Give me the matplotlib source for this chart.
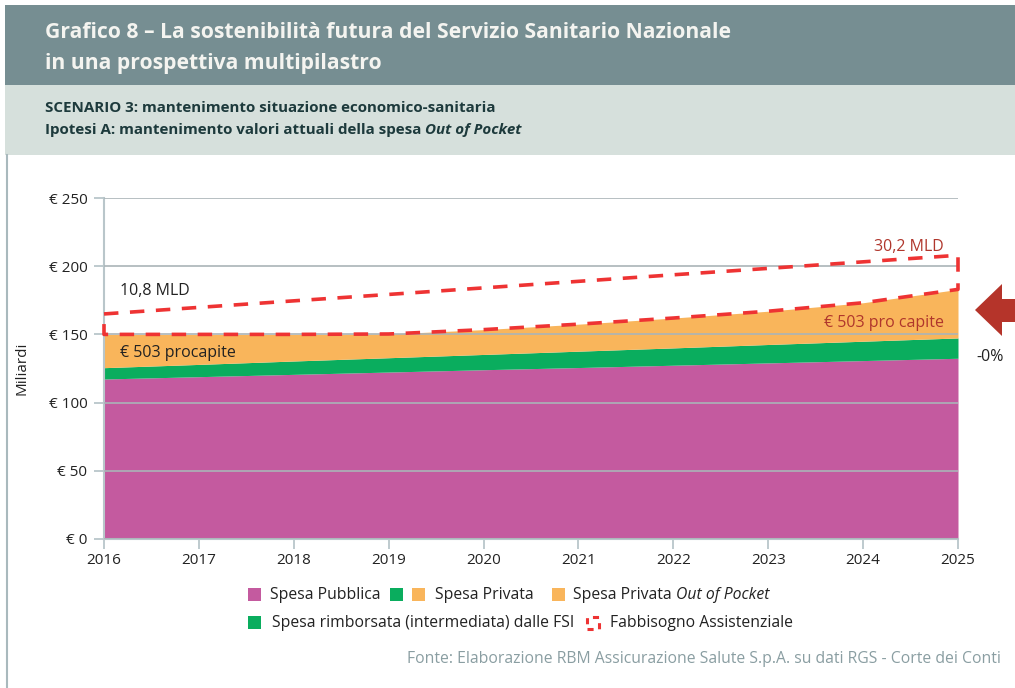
import matplotlib
matplotlib.use("Agg")
import matplotlib.pyplot as plt
from matplotlib.patches import Rectangle, Polygon
from matplotlib import font_manager as fm

names = {f.name for f in fm.fontManager.ttflist}
FAM = ['Liberation Sans Narrow', 'DejaVu Sans'] if 'Liberation Sans Narrow' in names else ['Open Sans', 'DejaVu Sans']
plt.rcParams['font.family'] = FAM

# ---- data ----
years = [2016, 2017, 2018, 2019, 2020, 2021, 2022, 2023, 2024, 2025]
spesa_pubblica = [117.3, 119.0, 120.7, 122.4, 124.1, 125.7, 127.4, 129.1, 130.8, 132.5]
spesa_fsi = [8.3, 9.0, 9.8, 10.5, 11.2, 12.0, 12.7, 13.5, 14.2, 14.9]
spesa_oop = [24.4, 22.0, 19.5, 17.4, 18.2, 19.8, 21.9, 24.4, 28.2, 35.6]
fabbisogno = [165.0, 169.8, 174.6, 179.3, 184.1, 188.9, 193.7, 198.4, 203.2, 208.0]
yticks = [0, 50, 100, 150, 200, 250]
ytick_labels = ['€ 0', '€ 50', '€ 100', '€ 150', '€ 200', '€ 250']

C_PUB = '#c45a9f'
C_FSI = '#0aad5e'
C_OOP = '#f9b55b'
C_RED = '#ee3333'
C_DRED = '#b5342a'

W, H = 1015, 688
fig = plt.figure(figsize=(W / 100, H / 100), dpi=100)

def fx(px):
    return px / W

def fy(py):
    return 1 - py / H

# header bands
fig.patches.append(Rectangle((fx(5), fy(85)), fx(1010), 80 / H, transform=fig.transFigure,
                             facecolor='#768e92', edgecolor='none'))
fig.patches.append(Rectangle((fx(5), fy(155)), fx(1010), 70 / H, transform=fig.transFigure,
                             facecolor='#d6e0dc', edgecolor='none'))
fig.add_artist(plt.Line2D([fx(6.5), fx(6.5)], [fy(155), fy(688)], transform=fig.transFigure,
                          color='#a9b9bd', lw=1.5))

fig.text(fx(45), fy(32), 'Grafico 8 – La sostenibilità futura del Servizio Sanitario Nazionale',
         color='#f4f4f0', fontsize=15.2, fontweight='bold', va='center', ha='left')
fig.text(fx(45), fy(64), 'in una prospettiva multipilastro',
         color='#f4f4f0', fontsize=15.2, fontweight='bold', va='center', ha='left')
fig.text(fx(45), fy(108), 'SCENARIO 3: mantenimento situazione economico-sanitaria',
         color='#1d3a3c', fontsize=10.9, fontweight='bold', va='center', ha='left')
t = fig.text(fx(45), fy(130), 'Ipotesi A: mantenimento valori attuali della spesa ',
             color='#1d3a3c', fontsize=10.9, fontweight='bold', va='center', ha='left')
fig.canvas.draw()
bb = t.get_window_extent()
fig.text(bb.x1 / W, fy(130), 'Out of Pocket', color='#1d3a3c', fontsize=10.9,
         fontweight='bold', style='italic', va='center', ha='left')

# axes
ax = fig.add_axes([fx(104), fy(539), fx(958 - 104), (539 - 198) / H])
lvl1 = spesa_pubblica
lvl2 = [a + b for a, b in zip(spesa_pubblica, spesa_fsi)]
lvl3 = [a + b for a, b in zip(lvl2, spesa_oop)]
ax.fill_between(years, 0, lvl1, color=C_PUB, lw=0, zorder=1)
ax.fill_between(years, lvl1, lvl2, color=C_FSI, lw=0, zorder=1)
ax.fill_between(years, lvl2, lvl3, color=C_OOP, lw=0, zorder=1)

# dashed "fabbisogno" polygon
xs = years + years[::-1] + [years[0]]
ys = fabbisogno + lvl3[::-1] + [fabbisogno[0]]
ax.plot(xs, ys, color=C_RED, lw=2.6, ls=(0, (4, 3.2)), zorder=4, clip_on=False)

ax.set_xlim(years[0], years[-1])
ax.set_ylim(0, 250)
ax.set_yticks(yticks)
ax.set_yticklabels(ytick_labels)
ax.set_xticks(years)
ax.set_xticklabels([str(y) for y in years])
ax.set_axisbelow(False)
ax.grid(axis='y', color='#aab4b8', lw=1.2, zorder=2)
for s in ['top', 'right']:
    ax.spines[s].set_visible(False)
for s in ['left', 'bottom']:
    ax.spines[s].set_color('#b9c6ca')
    ax.spines[s].set_linewidth(1.5)
    ax.spines[s].set_zorder(2)
ax.tick_params(axis='both', colors='#b9c6ca', labelcolor='#222222', labelsize=11, length=7, width=1.3)
ax.tick_params(axis='y', pad=5)
ax.tick_params(axis='x', pad=3)
ax.set_ylabel('Miliardi', fontsize=11, color='#222222', labelpad=14)

ax.text(2016.17, 182, '10,8 MLD', fontsize=11.5, color='#222222', va='center', ha='left')
ax.text(2024.85, 214, '30,2 MLD', fontsize=11.5, color='#b0362c', va='center', ha='right')
ax.text(2016.17, 136, '€ 503 procapite', fontsize=11.5, color='#222222', va='center', ha='left')
ax.text(2024.85, 158, '€ 503 pro capite', fontsize=11.5, color='#b0362c', va='center', ha='right')

fig.text(fx(976), fy(357), '-0%', fontsize=11.5, color='#222222', va='center', ha='left')

# arrow
arrow_px = [(975, 310), (1002, 284), (1002, 299), (1015, 299), (1015, 322), (1002, 322), (1002, 336)]
fig.patches.append(Polygon([(fx(x), fy(y)) for x, y in arrow_px], closed=True,
                           transform=fig.transFigure, facecolor=C_DRED, edgecolor='none'))

# legend
def sq(x, y, color, dashed=False):
    if dashed:
        fig.patches.append(Rectangle((fx(x), fy(y + 6)), 12 / W, 12 / H, transform=fig.transFigure,
                                     facecolor='none', edgecolor=C_RED, lw=2.2, ls=(0, (2, 2))))
    else:
        fig.patches.append(Rectangle((fx(x), fy(y + 6)), 13 / W, 13 / H, transform=fig.transFigure,
                                     facecolor=color, edgecolor='none'))

LT = dict(fontsize=11.3, color='#222222', va='center', ha='left')
r1, r2 = 595, 623
sq(248, r1, C_PUB); fig.text(fx(270), fy(r1), 'Spesa Pubblica', **LT)
sq(390, r1, C_FSI); sq(412, r1, C_OOP); fig.text(fx(435), fy(r1), 'Spesa Privata', **LT)
sq(552, r1, C_OOP)
t2 = fig.text(fx(573), fy(r1), 'Spesa Privata ', **LT)
fig.canvas.draw()
fig.text(t2.get_window_extent().x1 / W, fy(r1), 'Out of Pocket', style='italic', **LT)
sq(248, r2, C_FSI); fig.text(fx(272), fy(r2), 'Spesa rimborsata (intermediata) dalle FSI', **LT)
sq(587, r2, None, dashed=True); fig.text(fx(610), fy(r2), 'Fabbisogno Assistenziale', **LT)

fig.text(fx(1001), fy(659), 'Fonte: Elaborazione RBM Assicurazione Salute S.p.A. su dati RGS - Corte dei Conti',
         fontsize=11.3, color='#8a9ea2', va='center', ha='right')

fig.savefig('out.png', dpi=100)
